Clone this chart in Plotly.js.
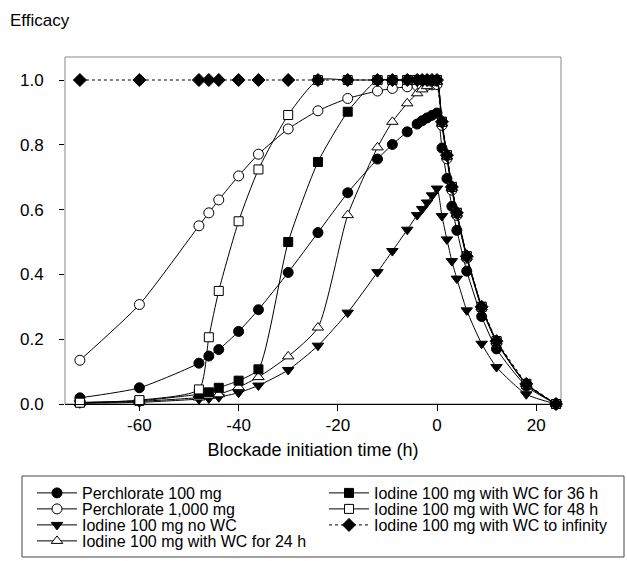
<!DOCTYPE html>
<html>
<head>
<meta charset="utf-8">
<script src="https://cdn.plot.ly/plotly-3.0.1.min.js"></script>
<style>html,body{margin:0;padding:0;background:#fff;}#chart{width:627px;height:561px;}</style>
</head>
<body>
<div id="chart"></div>
<script>
// Blockade initiation time (h)
var times = [-72, -60, -48, -46, -44, -40, -36, -30, -24, -18, -12, -9, -6, -4, -3, -2, -1, 0,
             1, 2, 3, 4, 6, 9, 12, 18, 24];

var perchlorate100 = [0.019, 0.05, 0.126, 0.148, 0.168, 0.224, 0.291, 0.406, 0.529, 0.652, 0.756, 0.801, 0.84, 0.864, 0.874, 0.883, 0.891, 0.898,
                      0.79, 0.696, 0.61, 0.536, 0.41, 0.27, 0.17, 0.055, 0.0];
var perchlorate1000 = [0.135, 0.307, 0.55, 0.59, 0.63, 0.704, 0.771, 0.849, 0.905, 0.943, 0.966, 0.974, 0.979, 0.982, 0.983, 0.984, 0.985, 0.986,
                       0.86, 0.757, 0.66, 0.582, 0.45, 0.296, 0.191, 0.061, 0.0];
var iodineNoWC = [0.002, 0.005, 0.015, 0.017, 0.021, 0.035, 0.057, 0.105, 0.18, 0.282, 0.407, 0.472, 0.538, 0.583, 0.602, 0.622, 0.644, 0.665,
                  0.58, 0.508, 0.441, 0.387, 0.289, 0.186, 0.114, 0.03, 0.0];
var iodineWC24 = [0.003, 0.008, 0.02, 0.025, 0.03, 0.052, 0.083, 0.147, 0.236, 0.583, 0.792, 0.871, 0.928, 0.959, 0.971, 0.981, 0.99, 0.995,
                  0.866, 0.764, 0.667, 0.587, 0.454, 0.299, 0.193, 0.062, 0.0];
var iodineWC36 = [0.005, 0.01, 0.03, 0.036, 0.05, 0.072, 0.107, 0.50, 0.747, 0.902, 1.0, 1.0, 1.0, 1.0, 1.0, 1.0, 1.0, 1.0,
                  0.871, 0.768, 0.67, 0.59, 0.456, 0.30, 0.194, 0.062, 0.0];
var iodineWC48 = [0.004, 0.012, 0.045, 0.206, 0.349, 0.564, 0.724, 0.892, 1.0, 1.0, 1.0, 1.0, 1.0, 1.0, 1.0, 1.0, 1.0, 1.0,
                  0.871, 0.768, 0.67, 0.59, 0.456, 0.30, 0.194, 0.062, 0.0];
var iodineWCInf = [1.0, 1.0, 1.0, 1.0, 1.0, 1.0, 1.0, 1.0, 1.0, 1.0, 1.0, 1.0, 1.0, 1.0, 1.0, 1.0, 1.0, 1.0,
                   0.871, 0.768, 0.67, 0.59, 0.456, 0.30, 0.194, 0.062, 0.0];

var seriesNames = ['Perchlorate 100 mg', 'Perchlorate 1,000 mg', 'Iodine 100 mg no WC', 'Iodine 100 mg with WC for 24 h',
                   'Iodine 100 mg with WC for 36 h', 'Iodine 100 mg with WC for 48 h', 'Iodine 100 mg with WC to infinity'];
var xTicks = [-60, -40, -20, 0, 20];
var xTickText = ['-60', '-40', '-20', '0', '20'];
var yTicks = [0.0, 0.2, 0.4, 0.6, 0.8, 1.0];

var seriesValues = [perchlorate100, perchlorate1000, iodineNoWC, iodineWC24, iodineWC36, iodineWC48, iodineWCInf];
var symbols = ['circle', 'circle', 'triangle-down', 'triangle-up', 'square', 'square', 'diamond'];
var fills = ['#000', '#fff', '#000', '#fff', '#000', '#fff', '#000'];
var sizes = [10, 10, 10, 10, 9, 9, 10];
var dashes = ['solid', 'solid', 'solid', 'solid', 'solid', 'solid', 'dot'];
var legendIds = ['legend', 'legend2', 'legend3', 'legend4', 'legend5', 'legend6', 'legend7'];

var traces = seriesValues.map(function (vals, i) {
  return {
    type: 'scatter', mode: 'lines+markers', x: times, y: vals, name: seriesNames[i],
    legend: legendIds[i], cliponaxis: false,
    line: {color: '#000', width: 1, dash: dashes[i], shape: dashes[i] === 'dot' ? 'linear' : 'spline', smoothing: 0.6},
    marker: {symbol: symbols[i], size: sizes[i], color: fills[i], line: {color: '#000', width: 1}}
  };
});

// layout geometry
var L = 65, R = 66, T = 57, B = 157, W = 627, H = 561;
var pw = W - L - R, ph = H - T - B;
function px2x(p) { return (p - L) / pw; }
function py2y(p) { return (H - B - p) / ph; }

var fam = 'Arial, "Liberation Sans", sans-serif';
var colLeft = [32, 32, 32, 32, 324, 324, 324];
var rowY = [493, 509, 525, 541, 493, 509, 525];
var layout = {
  width: W, height: H,
  margin: {l: L, r: R, t: T, b: B, autoexpand: false},
  paper_bgcolor: '#fff', plot_bgcolor: '#fff',
  font: {family: fam, size: 16, color: '#000'},
  showlegend: true,
  title: {text: 'Efficacy', x: 10 / W, xref: 'container', xanchor: 'left', y: 1 - 20 / H, yref: 'container', yanchor: 'middle',
          font: {family: fam, size: 17, color: '#000'}},
  xaxis: {
    range: [-75, 25], tickvals: xTicks, ticktext: xTickText, ticks: 'outside', ticklen: 6, tickwidth: 1, tickcolor: '#000',
    showline: true, linecolor: '#000', linewidth: 1, showgrid: false, zeroline: false,
    tickfont: {family: fam, size: 17, color: '#000'}, ticklabelstandoff: 0,
    title: {text: 'Blockade initiation time (h)', font: {family: fam, size: 18, color: '#000'}, standoff: 8}
  },
  yaxis: {
    range: [0, 1.071], tickvals: yTicks, tickformat: '.1f', ticks: 'outside', ticklen: 5, tickwidth: 1, tickcolor: '#000',
    showline: false, showgrid: false, zeroline: false,
    tickfont: {family: fam, size: 17, color: '#000'}, ticklabelstandoff: 12
  },
  shapes: [
    {type: 'rect', xref: 'paper', yref: 'paper', x0: 0, x1: 1, y0: 0, y1: 1, line: {color: '#888', width: 1}, layer: 'below'},
    {type: 'rect', xref: 'paper', yref: 'paper', x0: px2x(22), x1: px2x(624), y0: py2y(476), y1: py2y(557), line: {color: '#444', width: 1}}
  ]
};
legendIds.forEach(function (id, i) {
  layout[id] = {
    x: px2x(colLeft[i]), y: py2y(rowY[i]), xanchor: 'left', yanchor: 'middle', orientation: 'v',
    bgcolor: 'rgba(0,0,0,0)', borderwidth: 0, itemwidth: 40,
    font: {family: fam, size: 16, color: '#000'}
  };
});

Plotly.newPlot('chart', traces, layout, {displayModeBar: false, staticPlot: true});
</script>
</body>
</html>
